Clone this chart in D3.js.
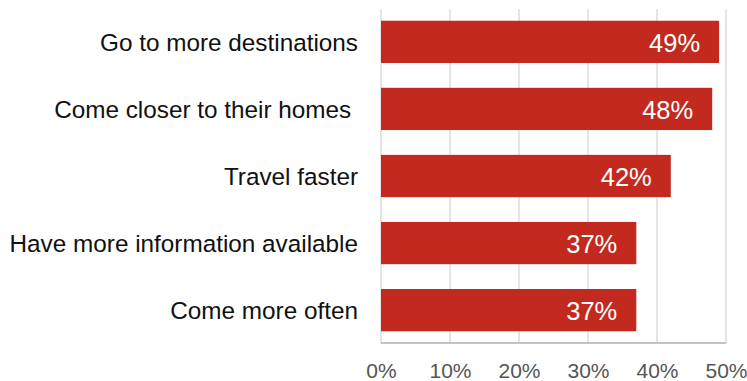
<!DOCTYPE html>
<html>
<head>
<meta charset="utf-8">
<script src="https://cdn.jsdelivr.net/npm/d3@7"></script>
<style>
  html, body { margin: 0; padding: 0; background: #fff; }
  svg { display: block; font-family: "Liberation Sans", Arial, Helvetica, sans-serif; }
  text { white-space: pre; }
</style>
</head>
<body>
<svg id="chart" width="747" height="381"></svg>
<script>
// Share of respondents by reason
const categories = [
  "Go to more destinations",
  "Come closer to their homes ",
  "Travel faster",
  "Have more information available",
  "Come more often"
];
const values = [49, 48, 42, 37, 37];
const tickValues = [0, 10, 20, 30, 40, 50];

const svg = d3.select("#chart");
const margin = { left: 381, right: 21, top: 9, bottom: 38 };
const width = 747, height = 381;

const x = d3.scaleLinear().domain([0, 50]).range([margin.left, width - margin.right]);
const y = d3.scaleBand()
  .domain(categories)
  .range([margin.top, height - margin.bottom])
  .paddingInner(0.37)
  .paddingOuter(0.175);

// Vertical gridlines
svg.append("g")
  .selectAll("line")
  .data(tickValues)
  .join("line")
  .attr("x1", d => x(d)).attr("x2", d => x(d))
  .attr("y1", margin.top).attr("y2", height - margin.bottom)
  .attr("stroke", "#dcdcdc")
  .attr("stroke-width", 1.5);

// Baseline
svg.append("line")
  .attr("x1", x(0)).attr("x2", x(50))
  .attr("y1", height - margin.bottom).attr("y2", height - margin.bottom)
  .attr("stroke", "#b0b0b0")
  .attr("stroke-width", 1.5);

// Bars
svg.append("g")
  .selectAll("rect")
  .data(values)
  .join("rect")
  .attr("x", x(0))
  .attr("y", (d, i) => y(categories[i]))
  .attr("width", d => x(d) - x(0))
  .attr("height", y.bandwidth())
  .attr("fill", "#c32a1f");

// Value labels inside bars
svg.append("g")
  .selectAll("text")
  .data(values)
  .join("text")
  .attr("x", d => x(d) - 19)
  .attr("y", (d, i) => y(categories[i]) + y.bandwidth() / 2)
  .attr("dy", "0.4em")
  .attr("text-anchor", "end")
  .attr("fill", "#fff")
  .attr("font-size", 25.5)
  .text(d => d + "%");

// Category labels
svg.append("g")
  .selectAll("text")
  .data(categories)
  .join("text")
  .attr("x", 358)
  .attr("y", d => y(d) + y.bandwidth() / 2)
  .attr("dy", "0.37em")
  .attr("text-anchor", "end")
  .attr("fill", "#111")
  .attr("font-size", 24.3)
  .text(d => d);

// X axis tick labels
const xAxis = d3.axisBottom(x)
  .tickValues(tickValues)
  .tickFormat(d => d + "%")
  .tickSize(0)
  .tickPadding(20);
const gx = svg.append("g")
  .attr("transform", `translate(0,${height - margin.bottom})`)
  .call(xAxis);
gx.select(".domain").remove();
gx.selectAll("text")
  .attr("fill", "#555")
  .attr("font-size", 21)
  .attr("font-family", "\"Liberation Sans\", Arial, sans-serif");
</script>
</body>
</html>
